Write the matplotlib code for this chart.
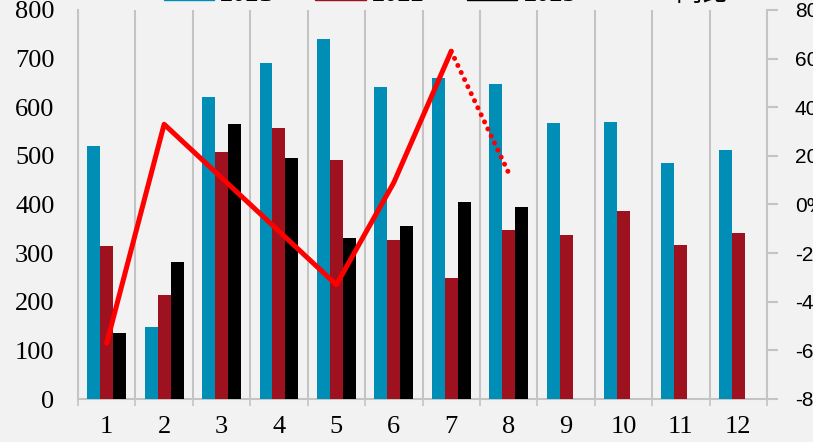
import matplotlib
matplotlib.use("Agg")
import matplotlib.pyplot as plt
import numpy as np
from matplotlib.patches import Patch
from matplotlib.lines import Line2D
from matplotlib.ticker import FuncFormatter, FixedLocator

months = ["1", "2", "3", "4", "5", "6", "7", "8", "9", "10", "11", "12"]
s2021 = [520, 148, 621, 691, 740, 642, 660, 648, 568, 570, 485, 512]
s2022 = [315, 214, 508, 557, 491, 327, 249, 348, 337, 387, 317, 341]
s2023 = [136, 282, 566, 496, 331, 356, 405, 395]
yoy = [-57, 33, 11, -11, -33, 9, 63, 13]  # percent
series_names = ["2021", "2022", "2023", "同比"]

c21, c22, c23, cl = "#008DB6", "#9E111E", "#000000", "#FF0000"
bg = "#F2F2F2"
grid_c = "#C4C4C4"

fig = plt.figure(figsize=(8.13, 4.42), dpi=100, facecolor=bg)
ax = fig.add_axes([78/813, 1-399/442, (767-78)/813, 389/442])
ax.set_facecolor(bg)

x = np.arange(1, len(months)+1)
w = 0.225
ax.bar(x[:len(s2021)] - w, s2021, w, color=c21, zorder=3)
ax.bar(x[:len(s2022)], s2022, w, color=c22, zorder=3)
ax.bar(x[:len(s2023)] + w, s2023, w, color=c23, zorder=3)

ax.set_xlim(0.5, 12.5)
ax.set_ylim(0, 800)
ax.set_yticks(range(0, 801, 100))
ax.set_xticks(x)
ax.set_xticklabels(months)
ax.xaxis.set_minor_locator(FixedLocator(np.arange(0.5, 12.6, 1)))
ax.grid(axis="x", which="minor", color=grid_c, lw=1.5, zorder=0)
ax.tick_params(axis="x", which="major", length=0, pad=12)
ax.tick_params(axis="x", which="minor", length=5, color=grid_c, width=1.2, direction="out")
ax.tick_params(axis="y", length=0, pad=17)
for lab in ax.get_xticklabels() + ax.get_yticklabels():
    lab.set_fontfamily("Liberation Serif")
    lab.set_fontsize(19)
for s in ["top", "right"]:
    ax.spines[s].set_visible(False)
for s in ["left", "bottom"]:
    ax.spines[s].set_color(grid_c)
    ax.spines[s].set_linewidth(1.5)

ax2 = ax.twinx()
ax2.set_ylim(-80, 80)
ax2.set_yticks(range(-80, 81, 20))
ax2.yaxis.set_major_formatter(FuncFormatter(lambda v, p: f"{int(v)}%"))
ax2.tick_params(axis="y", length=8, color=grid_c, width=1.5, pad=12)
for lab in ax2.get_yticklabels():
    lab.set_fontfamily("Liberation Sans")
    lab.set_fontsize(15)
for s in ["top", "left", "bottom"]:
    ax2.spines[s].set_visible(False)
ax2.spines["right"].set_color(grid_c)
ax2.spines["right"].set_linewidth(1.5)

xl = x[:len(yoy)]
ax2.plot(xl[:7], yoy[:7], color=cl, lw=3.6, solid_capstyle="round", zorder=5)
ax2.plot(xl[6:8], yoy[6:8], color=cl, lw=3.6, linestyle=(0, (0.01, 1.55)),
         dash_capstyle="round", zorder=5)

handles = [Patch(color=c21), Patch(color=c22), Patch(color=c23),
           Line2D([0], [0], color=cl, lw=3.6)]
leg = fig.legend(handles, series_names, loc="center", bbox_to_anchor=(446/813, 1+6/442),
                 ncol=4, frameon=False, handlelength=1.9, handleheight=0.6,
                 handletextpad=0.25, columnspacing=1.6,
                 prop={"family": ["Liberation Serif", "Noto Sans CJK SC"], "size": 19})

fig.savefig("out.png", dpi=100, facecolor=bg)
